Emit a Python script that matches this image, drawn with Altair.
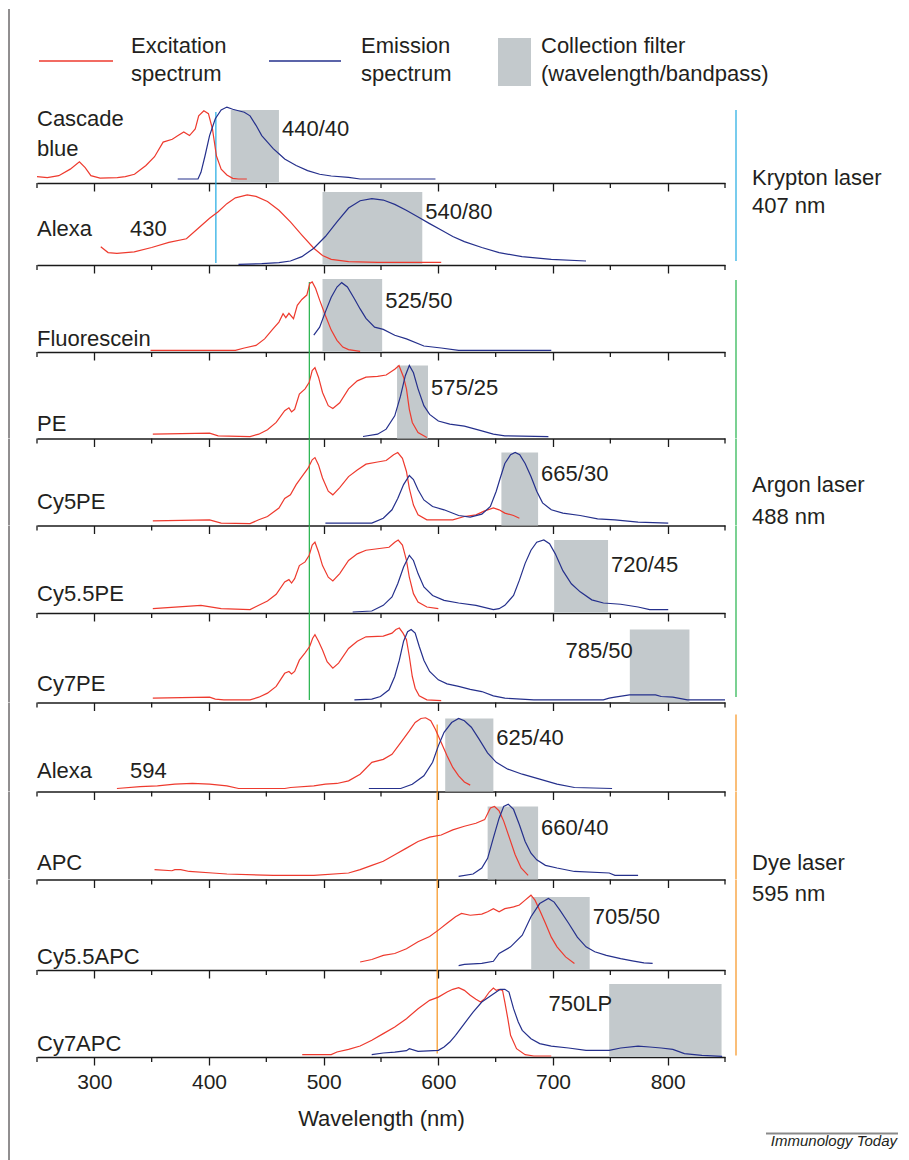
import altair as alt
import pandas as pd

# ------------------------------------------------------------------ data
dyes = ["Cascade blue", "Alexa 430", "Fluorescein", "PE", "Cy5PE", "Cy5.5PE",
        "Cy7PE", "Alexa 594", "APC", "Cy5.5APC", "Cy7APC"]
filters = ["440/40", "540/80", "525/50", "575/25", "665/30", "720/45",
           "785/50", "625/40", "660/40", "705/50", "750LP"]
filter_lo = [419, 499, 499, 564, 655, 701, 767, 606, 643, 681, 749]
filter_hi = [461, 586, 551, 591, 687, 748, 819, 648, 687, 732, 847]
filter_top = 1.0

laser_names = ["Krypton laser", "Argon laser", "Dye laser"]
laser_wl_labels = ["407 nm", "488 nm", "595 nm"]
laser_line_nm = [406, 487.5, 599]

major_ticks = [300, 400, 500, 600, 700, 800]
minor_ticks = [250, 350, 450, 550, 650, 750, 850]
axis_title = "Wavelength (nm)"
legend_lines = [["Excitation", "spectrum"], ["Emission", "spectrum"],
                ["Collection filter", "(wavelength/bandpass)"]]
credit = "Immunology Today"

# excitation (red) / emission (blue) spectra, normalised intensity
cascade_ex_nm = [250, 259, 269, 279, 287, 292, 297, 305, 320, 327, 335, 345, 352.5, 360, 368, 373,
                 378, 383, 388, 391, 395.5, 399.5, 403, 406.5, 410.6, 415.6, 420.7, 425.7, 433]
cascade_ex = [0.087, 0.073, 0.10, 0.19, 0.29, 0.21, 0.10, 0.068, 0.073, 0.087, 0.12, 0.24, 0.36, 0.56,
              0.60, 0.65, 0.70, 0.65, 0.74, 0.92, 0.99, 0.95, 0.74, 0.37, 0.19, 0.11, 0.064, 0.055, 0.055]
cascade_em_nm = [372.7, 390.4, 393, 396.5, 400.5, 405.5, 410.6, 415.6, 420.7, 425.7, 430.8, 435.8, 441,
                 446, 451, 456, 461, 466, 476, 486, 496.5, 506.6, 521.7, 531.8, 597.5]
cascade_em = [0.055, 0.055, 0.146, 0.37, 0.65, 0.88, 1.0, 1.04, 1.01, 0.99, 0.97, 0.92, 0.79, 0.65,
              0.56, 0.47, 0.40, 0.33, 0.24, 0.17, 0.12, 0.096, 0.078, 0.055, 0.055]

alexa430_ex_nm = [305.6, 312, 319.7, 334.8, 350, 365, 380.3, 390.4, 400.5, 408, 415.6, 423, 433.3, 441,
                  451, 461, 471, 481, 491.4, 499, 506.6, 521.7, 547, 602.5]
alexa430_ex = [0.25, 0.17, 0.16, 0.18, 0.24, 0.31, 0.36, 0.50, 0.64, 0.73, 0.84, 0.92, 0.96, 0.94,
               0.87, 0.75, 0.59, 0.41, 0.23, 0.13, 0.078, 0.046, 0.037, 0.037]
alexa430_em_nm = [425.7, 446, 461, 471, 481, 491.4, 501.5, 511.6, 521.7, 531.8, 542, 552, 562, 572,
                  582, 592, 602.5, 612.6, 622.7, 637.9, 653, 673, 698.5, 728.8]
alexa430_em = [0.009, 0.018, 0.032, 0.055, 0.114, 0.23, 0.39, 0.59, 0.78, 0.88, 0.91, 0.89, 0.83, 0.75,
               0.66, 0.57, 0.48, 0.39, 0.32, 0.24, 0.17, 0.114, 0.078, 0.055]

fitc_ex_nm = [349, 423, 430.8, 441, 448.5, 456, 461, 464.6, 467, 469.7, 473.7, 477, 481, 485.3, 487.9,
              490, 493, 496.5, 501.5, 506.6, 511.6, 516.7, 521.7, 531.8]
fitc_ex = [0.023, 0.023, 0.055, 0.091, 0.18, 0.32, 0.41, 0.525, 0.47, 0.53, 0.457, 0.64, 0.72, 0.78,
           0.94, 0.96, 0.87, 0.71, 0.50, 0.30, 0.16, 0.068, 0.032, 0.009]
fitc_em_nm = [491.4, 496.5, 501.5, 506.6, 511.6, 515.7, 520.7, 526.8, 531.8, 536.9, 544.4, 552, 562,
              572.2, 587.4, 602.5, 617.7, 698.5]
fitc_em = [0.23, 0.34, 0.55, 0.75, 0.89, 0.95, 0.89, 0.73, 0.59, 0.46, 0.34, 0.31, 0.23, 0.18, 0.082,
           0.055, 0.023, 0.023]

pe_ex_nm = [351, 400.5, 408, 435.8, 443.4, 451, 458.6, 466, 469.7, 472, 474.7, 478.8, 483.8, 487.4, 490,
            492.4, 495.5, 499, 504, 508, 514, 521.7, 529.3, 536.9, 547, 554.5, 562, 565.7, 569.7, 572.2,
            574.7, 577.3, 582.3, 590]
pe_ex = [0.059, 0.073, 0.037, 0.027, 0.059, 0.119, 0.22, 0.38, 0.42, 0.365, 0.40, 0.61, 0.68, 0.77, 0.93,
         0.97, 0.84, 0.63, 0.45, 0.41, 0.49, 0.68, 0.79, 0.84, 0.85, 0.87, 0.95, 1.0, 0.84, 0.68, 0.40,
         0.22, 0.082, 0.014]
pe_em_nm = [534.3, 547, 554.5, 562, 567, 571.2, 574.7, 578.3, 582.3, 587.4, 592.4, 600, 610, 622.7,
            637.9, 648, 658, 696]
pe_em = [0.027, 0.059, 0.128, 0.31, 0.58, 0.86, 1.0, 0.90, 0.68, 0.45, 0.33, 0.24, 0.196, 0.17, 0.105,
         0.059, 0.037, 0.027]

cy5pe_ex_nm = [351, 400.5, 410.6, 435.8, 443.4, 451, 461, 466, 471, 476, 481, 486.4, 490, 492.4, 495.5,
               499, 504, 508, 514, 521.7, 529.3, 536.9, 547, 554.5, 561, 564.6, 568.7, 572.2, 574.7,
               578.3, 582.3, 590, 612.6, 622.7, 632.8, 640.4, 648, 653, 658, 665.6, 670.7]
cy5pe_ex = [0.064, 0.078, 0.032, 0.027, 0.078, 0.123, 0.24, 0.37, 0.42, 0.56, 0.67, 0.785, 0.90, 0.93,
            0.83, 0.65, 0.47, 0.42, 0.52, 0.67, 0.76, 0.84, 0.87, 0.89, 0.97, 1.0, 0.92, 0.74, 0.51,
            0.28, 0.146, 0.078, 0.078, 0.123, 0.146, 0.20, 0.24, 0.215, 0.17, 0.137, 0.10]
cy5pe_em_nm = [501.5, 542, 552, 559.6, 564.6, 569.7, 574.7, 578.3, 582.3, 587.4, 595, 605, 617.7,
               627.8, 637.9, 645.4, 650.5, 654, 658, 663, 667, 671, 675.7, 680.8, 685.8, 690.9, 698.5,
               708.6, 723.7, 738.9, 754, 774.2, 800.5]
cy5pe_em = [0.032, 0.032, 0.10, 0.215, 0.37, 0.56, 0.685, 0.63, 0.49, 0.35, 0.26, 0.215, 0.137, 0.114,
            0.155, 0.26, 0.47, 0.65, 0.85, 0.97, 1.0, 0.97, 0.85, 0.67, 0.47, 0.31, 0.215, 0.17, 0.137,
            0.091, 0.078, 0.046, 0.032]

cy55pe_ex_nm = [351, 393, 410.6, 435.8, 443.4, 451, 458.6, 466, 469.7, 472, 474.7, 478.8, 483.8, 487.4,
                490, 492.4, 495.5, 499, 504, 508, 514, 521.7, 529.3, 536.9, 547, 557, 562, 565, 568.7,
                572.2, 574.7, 578.3, 582.3, 590, 600]
cy55pe_ex = [0.059, 0.105, 0.059, 0.046, 0.105, 0.164, 0.256, 0.425, 0.457, 0.41, 0.47, 0.65, 0.70,
             0.79, 0.93, 0.97, 0.836, 0.65, 0.49, 0.44, 0.54, 0.72, 0.81, 0.86, 0.88, 0.90, 0.97, 1.0,
             0.93, 0.72, 0.49, 0.265, 0.15, 0.082, 0.059]
cy55pe_em_nm = [525.3, 542, 552, 559.6, 564.6, 569.7, 574.7, 578.3, 582.3, 587.4, 595, 605, 617.7, 632.8,
                648, 653, 658, 665.6, 670.7, 675.7, 680.8, 685.8, 692, 697, 702, 708.6, 716, 723.7,
                733.8, 744, 759, 774.2, 784.3, 800.5]
cy55pe_em = [0.014, 0.027, 0.105, 0.22, 0.40, 0.63, 0.79, 0.72, 0.54, 0.356, 0.24, 0.174, 0.137, 0.105,
             0.046, 0.059, 0.105, 0.24, 0.45, 0.68, 0.86, 0.97, 1.0, 0.95, 0.81, 0.58, 0.40, 0.29, 0.18,
             0.137, 0.12, 0.082, 0.046, 0.046]

cy7pe_ex_nm = [351, 400.5, 405.5, 413, 435.8, 443.4, 451, 458.6, 466, 469.7, 472, 474.7, 478.8, 483.8,
               487.9, 490.4, 492.4, 495.5, 499, 503, 508, 513, 521.7, 529.3, 536.9, 552, 559.6, 563, 566,
               569.2, 572.2, 574.7, 577.3, 579.8, 583.3, 590, 602.5]
cy7pe_ex = [0.059, 0.073, 0.046, 0.037, 0.037, 0.073, 0.128, 0.22, 0.40, 0.425, 0.39, 0.425, 0.58, 0.68,
            0.77, 0.88, 0.93, 0.84, 0.72, 0.56, 0.47, 0.54, 0.74, 0.84, 0.90, 0.91, 0.95, 1.0, 1.02, 0.95,
            0.86, 0.63, 0.356, 0.196, 0.091, 0.037, 0.027]
cy7pe_em_nm = [526.8, 542, 549.5, 557, 562, 566, 569.7, 573.2, 576.3, 579.8, 583.3, 587.4, 592.4, 600,
               607.6, 617.7, 627.8, 637.9, 648, 658, 683.3, 743.9, 749, 754, 766.7, 789.4, 794.4, 804.5,
               817.2, 850]
cy7pe_em = [0.037, 0.046, 0.082, 0.174, 0.356, 0.58, 0.84, 0.97, 1.0, 0.95, 0.77, 0.58, 0.425, 0.31,
            0.256, 0.22, 0.18, 0.15, 0.091, 0.059, 0.037, 0.037, 0.059, 0.073, 0.105, 0.105, 0.082, 0.073,
            0.037, 0.037]

alexa594_ex_nm = [319.7, 339.9, 355, 370.2, 385.4, 400.5, 415.6, 425.8, 466, 471.2, 491.4, 501.5, 511.6,
                  521.7, 531.8, 542, 552, 559.6, 567.2, 574.7, 579.8, 584.8, 588.9, 593.4, 597.5, 602.5,
                  607.6, 612.6, 617.7, 622.7, 627.8]
alexa594_ex = [0.041, 0.068, 0.078, 0.10, 0.11, 0.10, 0.078, 0.041, 0.041, 0.055, 0.078, 0.10, 0.11,
               0.146, 0.237, 0.40, 0.44, 0.51, 0.67, 0.83, 0.945, 1.0, 1.01, 0.97, 0.85, 0.67, 0.49, 0.33,
               0.215, 0.13, 0.087]
alexa594_em_nm = [539.4, 567.2, 577.3, 587.4, 595, 600, 605, 611.6, 617.7, 622.7, 628.8, 635.4, 642.9,
                  650.5, 660.6, 673.2, 688.4, 703.5, 718.7, 751.5]
alexa594_em = [0.041, 0.041, 0.10, 0.215, 0.40, 0.625, 0.81, 0.945, 1.0, 0.97, 0.88, 0.72, 0.53, 0.40,
               0.306, 0.237, 0.17, 0.10, 0.055, 0.041]

apc_ex_nm = [352.5, 367.7, 370.2, 375.3, 382.8, 403, 415.6, 456, 491.4, 521.7, 531.8, 542, 552, 562,
             572.2, 582.3, 592.4, 602.5, 612.6, 622.7, 632.8, 640.4, 645.4, 649, 653, 657, 662, 667,
             672.2, 678.3]
apc_ex = [0.135, 0.12, 0.135, 0.135, 0.11, 0.089, 0.075, 0.057, 0.057, 0.089, 0.135, 0.194, 0.25, 0.34,
          0.43, 0.52, 0.58, 0.61, 0.68, 0.73, 0.77, 0.82, 0.98, 1.0, 0.94, 0.80, 0.57, 0.34, 0.158, 0.057]
apc_em_nm = [617.7, 630.3, 637.9, 643, 648, 653, 657, 661, 665.6, 670.7, 675.7, 680.8, 685.8, 693.4,
             703.5, 718.7, 749, 754, 774.2]
apc_em = [0.043, 0.075, 0.158, 0.29, 0.57, 0.84, 1.0, 1.03, 0.96, 0.75, 0.52, 0.36, 0.27, 0.194, 0.158,
          0.11, 0.089, 0.057, 0.057]

cy55apc_ex_nm = [531.8, 542, 552, 562, 572.2, 582.3, 592.4, 600, 607.6, 615, 620.2, 627.8, 637.9, 643,
                 648, 653, 658, 665.6, 670.7, 675.7, 680.8, 684.3, 688.4, 693.4, 698.5, 703.5, 711, 718.7]
cy55apc_ex = [0.11, 0.144, 0.20, 0.226, 0.29, 0.386, 0.46, 0.546, 0.64, 0.73, 0.774, 0.75, 0.765, 0.797,
              0.84, 0.797, 0.84, 0.865, 0.89, 0.957, 1.025, 0.957, 0.82, 0.64, 0.45, 0.317, 0.18, 0.089]
cy55apc_em_nm = [617.7, 622.7, 637.9, 648, 653, 663, 673.2, 680.8, 688.4, 696, 701, 706, 713.6, 721.2,
                 728.8, 736.4, 746.5, 759, 769.2, 779.3, 786.9]
cy55apc_em = [0.06, 0.078, 0.09, 0.12, 0.226, 0.317, 0.477, 0.73, 0.91, 0.98, 0.93, 0.82, 0.64, 0.45,
              0.317, 0.25, 0.2, 0.157, 0.126, 0.098, 0.09]

cy7apc_ex_nm = [481.3, 506.6, 511.6, 521.7, 531.8, 542, 552, 562, 572.2, 582.3, 592.4, 600, 607.6, 612.6,
                617.7, 622.7, 627.8, 632.8, 636.9, 640.4, 644.4, 648, 650.5, 653, 656, 658, 660.6, 663,
                668.2, 675.7, 683.3, 698.5]
cy7apc_ex = [0.032, 0.032, 0.068, 0.105, 0.15, 0.23, 0.32, 0.41, 0.525, 0.66, 0.776, 0.82, 0.89, 0.927,
             0.95, 0.913, 0.845, 0.79, 0.753, 0.8, 0.89, 0.945, 0.913, 0.927, 0.913, 0.753, 0.525, 0.297,
             0.114, 0.032, 0.014, 0.014]
cy7apc_em_nm = [541.9, 552, 562, 572.2, 574.7, 582.3, 600, 605, 610, 615, 622.7, 630.3, 637.9, 645.4,
                650.5, 654, 658, 661.6, 665.6, 669.7, 673.2, 680.8, 688.4, 698.5, 713.6, 728.8, 749, 759,
                774.2, 784.3, 794.4, 804.5, 814.6, 829.8, 847.5]
cy7apc_em = [0.032, 0.055, 0.068, 0.087, 0.114, 0.078, 0.091, 0.137, 0.205, 0.297, 0.457, 0.616, 0.753,
             0.836, 0.89, 0.927, 0.927, 0.89, 0.662, 0.48, 0.365, 0.25, 0.183, 0.15, 0.123, 0.091, 0.091,
             0.123, 0.15, 0.137, 0.123, 0.105, 0.046, 0.023, 0.009]

ex_nm = [cascade_ex_nm, alexa430_ex_nm, fitc_ex_nm, pe_ex_nm, cy5pe_ex_nm, cy55pe_ex_nm, cy7pe_ex_nm,
         alexa594_ex_nm, apc_ex_nm, cy55apc_ex_nm, cy7apc_ex_nm]
ex_val = [cascade_ex, alexa430_ex, fitc_ex, pe_ex, cy5pe_ex, cy55pe_ex, cy7pe_ex, alexa594_ex, apc_ex,
          cy55apc_ex, cy7apc_ex]
em_nm = [cascade_em_nm, alexa430_em_nm, fitc_em_nm, pe_em_nm, cy5pe_em_nm, cy55pe_em_nm, cy7pe_em_nm,
         alexa594_em_nm, apc_em_nm, cy55apc_em_nm, cy7apc_em_nm]
em_val = [cascade_em, alexa430_em, fitc_em, pe_em, cy5pe_em, cy55pe_em, cy7pe_em, alexa594_em, apc_em,
          cy55apc_em, cy7apc_em]

# ------------------------------------------------------------------ layout / style
FONT = "Liberation Sans, Arial, Helvetica, sans-serif"
TXT = "#231f20"
RED = "#ee3a2e"
BLUE = "#25308c"
BOX = "#c3c9cc"
LASER_COLORS = ["#1eaae2", "#22b24a", "#f7931e"]
W = 688
PX_PER_UNIT = 73.0
LEGEND_H = 87
PANEL_H = [87, 82, 87, 86.5, 86.5, 87, 89.5, 88.5, 87.5, 90, 87]
PAGE_TOP = 8 + LEGEND_H
FRAME_X = -28
FS = 22
MAJOR_TICK = 8
MINOR_TICK = 5
AXIS_COLOR = "#1a1a1a"

tops = []
_t = PAGE_TOP
for _h in PANEL_H:
    tops.append(_t)
    _t += _h

name_above = [(63.7, 33.7), 35.7, 13, 14.5, 23.7, 19, 18.5, 20.7, 16.5, 13.2, 13.5]
SPLIT_X = 93
filter_label_above = [54, 53, 51, 50.5, 52, 48, 52, 54, 51.5, 53, 53.5]
filter_label_left = [False, False, False, False, False, False, True, False, False, False, True]

laser_line_span = [(111, 262), (281, 698), (722, 1050)]   # page y
laser_bar_span = [(109, 260), (279, 695), (712, 1052)]
laser_text_y = [(176.7, 205), (483.7, 515), (860, 890)]
LASER_BAR_X = W + 11
LASER_TEXT_X = W + 27

dummy = pd.DataFrame({"k": [0]})
minor_df = pd.DataFrame({"nm": minor_ticks})


def xscale():
    return alt.Scale(domain=[250, 850], nice=False, zero=False)


def xaxis(last):
    return alt.Axis(
        values=major_ticks, labels=last, grid=False, ticks=True,
        labelOverlap=False, labelFlush=False,
        tickSize=MAJOR_TICK, tickColor=AXIS_COLOR, tickWidth=1.3, tickOpacity=1,
        domainColor=AXIS_COLOR, domainWidth=1.5,
        labelPadding=6, labelFontSize=21, labelFont=FONT, labelColor=TXT,
        title=axis_title if last else None, titleFont=FONT, titleFontSize=FS,
        titleFontWeight="normal", titleColor=TXT, titlePadding=16,
    )


def text_layer(txt, x, y, align="left", size=FS, italic=False):
    kw = dict(align=align, baseline="middle", font=FONT, fontSize=size, color=TXT)
    if italic:
        kw["fontStyle"] = "italic"
    return alt.Chart(dummy).mark_text(**kw).encode(
        x=alt.value(x), y=alt.value(y), text=alt.value(txt))


def spans_in_panel(span, i):
    a, b = span
    top, bot = tops[i], tops[i] + PANEL_H[i]
    lo, hi = max(a, top), min(b, bot)
    if hi <= lo:
        return None
    return lo - top, hi - top


# ------------------------------------------------------------------ legend panel
leg = [
    alt.Chart(dummy).mark_rule(color=RED, strokeWidth=1.3).encode(
        x=alt.value(2), x2=alt.value(76), y=alt.value(52)),
    alt.Chart(dummy).mark_rule(color=BLUE, strokeWidth=1.3).encode(
        x=alt.value(232), x2=alt.value(304), y=alt.value(52)),
    alt.Chart(dummy).mark_rect(color=BOX).encode(
        x=alt.value(461), x2=alt.value(494), y=alt.value(29), y2=alt.value(77)),
    alt.Chart(dummy).mark_rule(color=TXT, strokeWidth=1).encode(
        x=alt.value(FRAME_X), y=alt.value(0), y2=alt.value(LEGEND_H)),
]
for (l1, l2), lx in zip(legend_lines, [94, 324, 504]):
    leg.append(text_layer(l1, lx, 37))
    leg.append(text_layer(l2, lx, 65))
legend_chart = alt.layer(*leg).properties(width=W, height=LEGEND_H)

# ------------------------------------------------------------------ spectrum panels
panels = []
n = len(dyes)
for i in range(n):
    h = PANEL_H[i]
    last = i == n - 1
    ys = alt.Scale(domain=[0, h / PX_PER_UNIT], nice=False, zero=True)

    def X(f, _last=last):
        return alt.X(f, scale=xscale(), axis=xaxis(_last))

    box_df = pd.DataFrame({"lo": [filter_lo[i]], "hi": [filter_hi[i]], "y0": [0.0], "y1": [filter_top],
                           "label": [filters[i]]})
    ex_df = pd.DataFrame({"nm": ex_nm[i], "val": ex_val[i]})
    em_df = pd.DataFrame({"nm": em_nm[i], "val": em_val[i]})

    layers = [
        alt.Chart(box_df).mark_rect(color=BOX).encode(
            x=X("lo:Q"), x2="hi:Q", y=alt.Y("y0:Q", scale=ys, axis=None), y2="y1:Q"),
        alt.Chart(minor_df).mark_rule(color=AXIS_COLOR, strokeWidth=1.3).encode(
            x=X("nm:Q"), y=alt.value(h), y2=alt.value(h + MINOR_TICK)),
    ]
    for k in range(3):
        s = spans_in_panel(laser_line_span[k], i)
        if s:
            ldf = pd.DataFrame({"nm": [laser_line_nm[k]]})
            layers.append(alt.Chart(ldf).mark_rule(color=LASER_COLORS[k], strokeWidth=1.2).encode(
                x=X("nm:Q"), y=alt.value(s[0]), y2=alt.value(s[1])))
        s = spans_in_panel(laser_bar_span[k], i)
        if s:
            layers.append(alt.Chart(dummy).mark_rule(color=LASER_COLORS[k], strokeWidth=1.2).encode(
                x=alt.value(LASER_BAR_X), y=alt.value(s[0]), y2=alt.value(s[1])))
        for txt, yy in zip([laser_names[k], laser_wl_labels[k]], laser_text_y[k]):
            if tops[i] <= yy < tops[i] + h:
                layers.append(text_layer(txt, LASER_TEXT_X, yy - tops[i]))

    layers += [
        alt.Chart(ex_df).mark_line(color=RED, strokeWidth=1.2).encode(
            x=X("nm:Q"), y=alt.Y("val:Q", scale=ys, axis=None)),
        alt.Chart(em_df).mark_line(color=BLUE, strokeWidth=1.2).encode(
            x=X("nm:Q"), y=alt.Y("val:Q", scale=ys, axis=None)),
    ]
    if filter_label_left[i]:
        layers.append(alt.Chart(box_df).mark_text(
            align="right", baseline="middle", font=FONT, fontSize=FS, color=TXT, dx=3).encode(
            x=X("lo:Q"), y=alt.value(h - filter_label_above[i]), text="label:N"))
    else:
        layers.append(alt.Chart(box_df).mark_text(
            align="left", baseline="middle", font=FONT, fontSize=FS, color=TXT, dx=3).encode(
            x=X("hi:Q"), y=alt.value(h - filter_label_above[i]), text="label:N"))
    name = dyes[i]
    na = name_above[i]
    if isinstance(na, tuple):
        parts = name.split(" ")
        layers.append(text_layer(parts[0], 0, h - na[0]))
        layers.append(text_layer(parts[1], 0, h - na[1]))
    elif name.startswith("Alexa"):
        parts = name.split(" ")
        layers.append(text_layer(parts[0], 0, h - na))
        layers.append(text_layer(parts[1], SPLIT_X, h - na))
    else:
        layers.append(text_layer(name, 0, h - na))
    y2f = h + 185 if last else h
    layers.append(alt.Chart(dummy).mark_rule(color=TXT, strokeWidth=1).encode(
        x=alt.value(FRAME_X), y=alt.value(0), y2=alt.value(y2f)))
    if last:
        layers.append(alt.Chart(dummy).mark_rule(color="#8a8a8a", strokeWidth=2).encode(
            x=alt.value(729), x2=alt.value(861), y=alt.value(h + 76.5)))
        layers.append(text_layer(credit, 860, h + 84, align="right", size=15, italic=True))
    panels.append(alt.layer(*layers).properties(width=W, height=h))

chart = alt.vconcat(legend_chart, *panels, spacing=0, bounds="flush").properties(
    padding={"left": 0, "top": 0, "right": 0, "bottom": 0}
).configure_view(strokeWidth=0)

chart.save("out.html", embed_options={"renderer": "svg", "actions": False})
